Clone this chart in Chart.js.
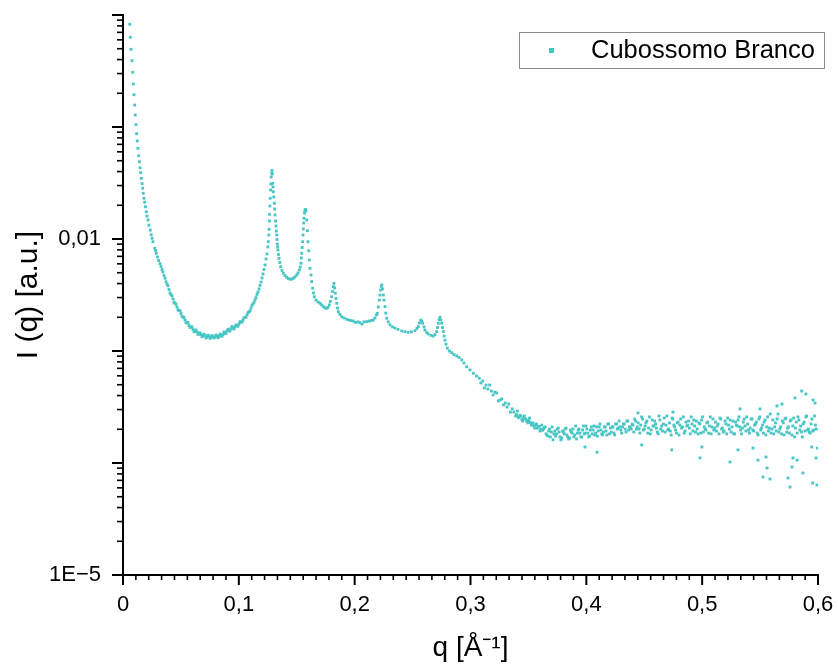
<!DOCTYPE html>
<html><head><meta charset="utf-8">
<script src="https://cdn.jsdelivr.net/npm/chart.js@4.4.1/dist/chart.umd.min.js"></script>
<style>html,body{margin:0;padding:0;background:#fff;}canvas{display:block;}</style>
</head><body>
<canvas id="c" width="838" height="665"></canvas>
<script>
const seriesName = 'Cubossomo Branco';

// low-q rise
const qRise = [0.0058,0.0063,0.0069,0.0078,0.0084,0.0089,0.0095,0.0101,0.0106,0.0112,
0.0118,0.0123,0.0129,0.0136,0.0141,0.0147,0.0153,0.0158,0.0164,0.0170,
0.0175,0.0181,0.0187,0.0193,0.0201,0.0207,0.0216,0.0224,0.0236,0.0244,
0.0251,0.0259,0.0274,0.0281,0.0287,0.0298,0.0307];
const iRise = [0.826,0.632,0.494,0.391,0.308,0.242,0.194,0.157,0.128,0.105,
0.0871,0.0750,0.0645,0.0554,0.0490,0.0433,0.0391,0.0348,0.0312,0.0284,
0.0256,0.0231,0.0213,0.0194,0.0175,0.0160,0.0148,0.0133,0.0120,0.0109,
0.01014,0.00946,0.00826,0.00790,0.00745,0.00691,0.00643];

// minimum region
const qDip = [0.0319,0.0328,0.0337,0.0345,0.0354,0.0363,0.0380,0.0397,0.0414,0.0432,
0.0449,0.0466,0.0483,0.0501,0.0518,0.0535,0.0553,0.0570,0.0587,0.0604,
0.0622,0.0639,0.0656,0.0673,0.0691,0.0708,0.0725,0.0742,0.0760,0.0777,
0.0794,0.0812,0.0829,0.0846,0.0863,0.0881,0.0898,0.0915,0.0932,0.0950,
0.0967,0.0984,0.1001,0.1019,0.1036,0.1053,0.1071,0.1088,0.1105,0.1122,0.1140];
const iDip = [0.00604,0.00568,0.00534,0.00507,0.00472,0.00446,0.00396,0.00354,0.00319,0.00291,
0.00267,0.00247,0.00230,0.00216,0.00201,0.00189,0.00180,0.00169,0.00164,0.001556,
0.001509,0.001478,0.001433,0.001404,0.001361,0.001376,0.001334,0.001361,0.001320,0.001348,
0.001334,0.001361,0.001348,0.001390,0.001404,0.001448,0.001509,0.001524,0.001588,0.001605,
0.00164,0.00169,0.001742,0.001815,0.00189,0.001991,0.002097,0.00223,0.00242,0.002628,0.002853];
const qDip2 = [0.03712,0.03885,0.04058,0.04230,0.04403,0.04575,0.04748,0.04921,0.05093,0.05266,
0.05439,0.05611,0.05784,0.05957,0.06129,0.06302,0.06475,0.06647,0.06820,0.06993,
0.07165,0.07338,0.07511,0.07683,0.07856,0.08029,0.08201,0.08374,0.08547,0.08719,
0.08892,0.09065,0.09237,0.09410,0.09583,0.09755,0.09928,0.10101,0.10273,0.10446,
0.10619,0.10791,0.10964,0.11137,0.11309];
const iDip2 = [0.004157,0.003822,0.003295,0.003098,0.002716,0.002617,0.002332,0.002285,0.002033,0.001991,
0.001790,0.001786,0.001624,0.001641,0.001487,0.001540,0.001404,0.001454,0.001341,0.001410,
0.001306,0.001384,0.001298,0.001376,0.001306,0.001390,0.001312,0.001413,0.001352,0.001478,
0.001433,0.001563,0.001506,0.001655,0.001572,0.001707,0.001662,0.001827,0.001808,0.001979,
0.002003,0.002198,0.002285,0.002559,0.002710];

// Bragg peaks region
const qPeaks = [0.11482,0.11568,0.11655,0.11741,0.11827,0.11914,0.12000,0.12086,0.12173,0.12259,
0.12345,0.12432,0.12501,0.12544,0.12587,0.12613,0.12639,0.12656,0.12682,0.12708,
0.12742,0.12768,0.12794,0.12829,0.12863,0.12898,0.12924,0.12950,0.12975,0.13019,
0.13062,0.13088,0.13122,0.13165,0.13208,0.13243,0.13269,0.13295,0.13321,0.13355,
0.13381,0.13424,0.13467,0.13537,0.13614,0.13726,0.13839,0.13985,0.14132,0.14270,
0.14417,0.14564,0.14702,0.14849,0.14995,0.15108,0.15220,0.15298,0.15367,0.15401,
0.15427,0.15470,0.15514,0.15539,0.15565,0.15600,0.15626,0.15669,0.15712,0.15764,
0.15798,0.15859,0.15911,0.15971,0.16031,0.16083,0.16144,0.16230,0.16290,0.16377,
0.16446,0.16515,0.16662,0.16834,0.17007,0.17154,0.17292,0.17439,0.17585,0.17698,
0.17810,0.17913,0.18017,0.18086,0.18155,0.18216,0.18276,0.18328,0.18388,0.18449,
0.18518,0.18587,0.18734,0.18880,0.19079,0.19312,0.19511,0.19683,0.19882,0.20072,
0.20288,0.20460,0.20633,0.20806,0.21039,0.21237,0.21410,0.21608,0.21755,0.21885,
0.21954,0.22040,0.22127,0.22187,0.22247,0.22299,0.22342,0.22403,0.22472,0.22532,
0.22618,0.22688,0.22765,0.22903,0.23050,0.23266,0.23482,0.23741,0.24060,0.24345,
0.24630,0.24906,0.25208,0.25381,0.25493,0.25597,0.25700,0.25787,0.25873,0.25985,
0.26072,0.26218,0.26356,0.26590,0.26788,0.26935,0.27082,0.27151,0.27220,0.27297,
0.27367,0.27436,0.27513,0.27582,0.27652,0.27729,0.27798,0.27885,0.27997,0.28187,
0.28377,0.28575,0.28808,0.29007,0.29240,0.29439,0.29672,0.29957,0.30242,0.30518,
0.30759];
const iPeaks = [0.00300,0.00320,0.00336,0.00358,0.00385,0.00413,0.00449,0.00487,0.00534,0.00586,
0.00663,0.00735,0.00849,0.00946,0.01086,0.01221,0.01448,0.01662,0.01971,0.02309,
0.02738,0.03098,0.03577,0.03886,0.04090,0.03806,0.03142,0.02913,0.02645,0.02371,
0.02083,0.01853,0.01638,0.01448,0.01307,0.01179,0.01086,0.00990,0.00902,0.00849,
0.00798,0.00727,0.00672,0.00617,0.00566,0.00523,0.00494,0.00472,0.00455,0.00444,
0.00437,0.00439,0.00446,0.00458,0.00477,0.00497,0.00529,0.00562,0.00607,0.00677,
0.00745,0.00840,0.00946,0.01086,0.01229,0.01390,0.01530,0.01707,0.01815,0.01834,
0.01778,0.01478,0.01186,0.00946,0.00786,0.00649,0.00547,0.00477,0.00416,0.00363,
0.00330,0.00305,0.00285,0.00274,0.00267,0.00258,0.00249,0.00242,0.00241,0.00245,
0.00258,0.00277,0.00305,0.00340,0.00375,0.00402,0.00365,0.00328,0.00294,0.00267,
0.00242,0.00224,0.00212,0.00202,0.00197,0.00192,0.00189,0.00187,0.00185,0.00180,
0.00182,0.00179,0.00174,0.00182,0.00183,0.00185,0.00187,0.00189,0.00197,0.00210,
0.00217,0.00247,0.00285,0.00316,0.00350,0.00377,0.00389,0.00358,0.00316,0.00285,
0.00249,0.00218,0.00196,0.00182,0.00171,0.00164,0.00160,0.00156,0.00151,0.00149,
0.00147,0.00148,0.00152,0.00159,0.00165,0.00178,0.00189,0.00185,0.00177,0.00164,
0.00154,0.00146,0.00142,0.00138,0.00136,0.00140,0.00149,0.00162,0.00177,0.00191,
0.00200,0.00189,0.00177,0.00162,0.00149,0.00136,0.00125,0.00115,0.00106,0.00100,
0.000966,0.000930,0.000903,0.000875,0.000831,0.000782,0.000724,0.000677,0.000632,0.000598,
0.000571];

// high-q tail (noisy plateau)
const qTail = [0.3090,0.3105,0.3120,0.3135,0.3150,0.3165,0.3180,0.3195,0.3210,0.3225,
0.3240,0.3255,0.3270,0.3285,0.3300,0.3315,0.3330,0.3345,0.3360,0.3375,
0.3390,0.3405,0.3420,0.3435,0.3450,0.3465,0.3480,0.3495,0.3510,0.3525,
0.3540,0.3555,0.3570,0.3585,0.3600,0.3615,0.3630,0.3645,0.3660,0.3675,
0.3690,0.3705,0.3720,0.3735,0.3750,0.3765,0.3780,0.3795,0.3810,0.3825,
0.3840,0.3855,0.3870,0.3885,0.3900,0.3915,0.3930,0.3945,0.3960,0.3975,
0.3990,0.4005,0.4020,0.4035,0.4050,0.4065,0.4080,0.4095,0.4110,0.4125,
0.4140,0.4155,0.4170,0.4185,0.4200,0.4215,0.4230,0.4245,0.4260,0.4275,
0.4290,0.4305,0.4320,0.4335,0.4350,0.4365,0.4380,0.4395,0.4410,0.4425,
0.4440,0.4455,0.4470,0.4485,0.4500,0.4515,0.4530,0.4545,0.4560,0.4575,
0.4590,0.4605,0.4620,0.4635,0.4650,0.4665,0.4680,0.4695,0.4710,0.4725,
0.4740,0.4755,0.4770,0.4785,0.4800,0.4815,0.4830,0.4845,0.4860,0.4875,
0.4890,0.4905,0.4920,0.4935,0.4950,0.4965,0.4980,0.4995,0.5010,0.5025,
0.5040,0.5055,0.5070,0.5085,0.5100,0.5115,0.5130,0.5145,0.5160,0.5175,
0.5190,0.5205,0.5220,0.5235,0.5250,0.5265,0.5280,0.5295,0.5310,0.5325,
0.5340,0.5355,0.5370,0.5385,0.5400,0.5415,0.5430,0.5445,0.5460,0.5475,
0.5490,0.5505,0.5520,0.5535,0.5550,0.5565,0.5580,0.5595,0.5610,0.5625,
0.5640,0.5655,0.5670,0.5685,0.5700,0.5715,0.5730,0.5745,0.5760,0.5775,
0.5790,0.5805,0.5820,0.5835,0.5850,0.5865,0.5880,0.5895,0.5910,0.5925,
0.5940,0.5955,0.5970,0.5985];
const iTail = [5.18e-4,5.40e-4,4.67e-4,4.97e-4,4.58e-4,4.97e-4,4.39e-4,4.05e-4,4.30e-4,4.22e-4,
3.58e-4,3.65e-4,3.73e-4,3.30e-4,3.43e-4,3.16e-4,3.36e-4,2.85e-4,3.04e-4,2.85e-4,
2.63e-4,2.91e-4,2.58e-4,2.63e-4,2.37e-4,2.63e-4,2.42e-4,2.28e-4,2.52e-4,2.18e-4,
2.28e-4,2.05e-4,2.23e-4,2.10e-4,1.93e-4,2.18e-4,2.01e-4,2.10e-4,1.78e-4,1.93e-4,
1.71e-4,2.10e-4,1.82e-4,1.74e-4,2.01e-4,1.89e-4,1.61e-4,1.93e-4,1.82e-4,2.05e-4,
1.71e-4,1.67e-4,1.89e-4,2.01e-4,1.78e-4,1.64e-4,1.97e-4,1.85e-4,1.71e-4,2.14e-4,
1.85e-4,2.01e-4,1.71e-4,1.97e-4,1.82e-4,2.14e-4,1.85e-4,1.74e-4,2.10e-4,1.97e-4,
1.78e-4,2.10e-4,1.93e-4,2.23e-4,1.82e-4,1.89e-4,2.10e-4,1.78e-4,2.23e-4,2.05e-4,
2.10e-4,1.85e-4,2.23e-4,2.01e-4,2.37e-4,1.97e-4,2.10e-4,2.23e-4,1.89e-4,2.37e-4,
2.10e-4,2.01e-4,2.18e-4,2.47e-4,2.01e-4,2.28e-4,1.85e-4,2.58e-4,1.97e-4,2.14e-4,
2.37e-4,2.05e-4,1.82e-4,2.42e-4,2.14e-4,2.23e-4,1.89e-4,2.63e-4,2.01e-4,1.93e-4,
2.52e-4,2.18e-4,1.97e-4,2.28e-4,1.78e-4,2.47e-4,2.10e-4,1.85e-4,2.32e-4,2.18e-4,
2.05e-4,2.58e-4,1.93e-4,2.14e-4,2.37e-4,1.82e-4,2.23e-4,2.42e-4,1.89e-4,2.01e-4,
2.28e-4,1.85e-4,2.58e-4,2.10e-4,1.97e-4,2.32e-4,2.14e-4,1.82e-4,2.47e-4,2.05e-4,
1.93e-4,2.23e-4,2.52e-4,2.01e-4,1.89e-4,2.37e-4,1.82e-4,2.18e-4,2.42e-4,2.10e-4,
1.82e-4,2.32e-4,2.14e-4,2.58e-4,1.97e-4,2.05e-4,2.47e-4,1.93e-4,2.23e-4,1.85e-4,
2.47e-4,1.97e-4,2.18e-4,2.32e-4,1.78e-4,2.58e-4,2.05e-4,1.85e-4,2.42e-4,2.10e-4,
1.93e-4,2.74e-4,2.01e-4,1.82e-4,2.28e-4,2.47e-4,1.89e-4,2.10e-4,2.37e-4,1.78e-4,
2.52e-4,2.05e-4,1.85e-4,2.42e-4,2.14e-4,1.71e-4,2.32e-4,2.58e-4,1.97e-4,1.89e-4,
2.23e-4,1.93e-4,2.63e-4,2.01e-4];
const qTail2 = [0.33975,0.34125,0.34275,0.34425,0.34575,0.34725,0.34875,0.35025,0.35175,0.35325,
0.35475,0.35625,0.35775,0.35925,0.36075,0.36225,0.36375,
0.36525,0.36675,0.36825,0.36975,0.37125,0.37275,0.37425,0.37575,0.37725,0.37875,
0.38025,0.38175,0.38325,0.38475,0.38625,0.38775,0.38925,0.39075,0.39225,0.39375,
0.39525,0.39675,0.39825,0.39975,0.40125,0.40275,0.40425,0.40575,0.40725,0.40875,
0.41025,0.41175,0.41325,0.41475,0.41625,0.41775,0.41925,0.42075,0.42225,0.42375,
0.42525,0.42675,0.42825,0.42975,0.43125,0.43275,0.43425,0.43575,0.43725,0.43875,
0.44025,0.44175,0.44325,0.44475,0.44625,0.44775,0.44925,0.45075,0.45225,0.45375,
0.45525,0.45675,0.45825,0.45975,0.46125,0.46275,0.46425,0.46575,0.46725,0.46875,
0.47025,0.47175,0.47325,0.47475,0.47625,0.47775,0.47925,0.48075,0.48225,0.48375,
0.48525,0.48675,0.48825,0.48975,0.49125,0.49275,0.49425,0.49575,0.49725,0.49875,
0.50025,0.50175,0.50325,0.50475,0.50625,0.50775,0.50925,0.51075,0.51225,0.51375,
0.51525,0.51675,0.51825,0.51975,0.52125,0.52275,0.52425,0.52575,0.52725,0.52875,
0.53025,0.53175,0.53325,0.53475,0.53625,0.53775,0.53925,0.54075,0.54225,0.54375,
0.54525,0.54675,0.54825,0.54975,0.55125,0.55275,0.55425,0.55575,0.55725,0.55875,
0.56025,0.56175,0.56325,0.56475,0.56625,0.56775,0.56925,0.57075,0.57225,0.57375,
0.57525,0.57675,0.57825,0.57975,0.58125,0.58275,0.58425,0.58575,0.58725,0.58875,
0.59025,0.59175,0.59325,0.59475,0.59625,0.59775];
const iTail2 = [2.70e-4,2.55e-4,2.66e-4,2.45e-4,2.52e-4,2.49e-4,2.35e-4,2.40e-4,2.30e-4,2.24e-4,
2.14e-4,2.19e-4,2.05e-4,2.12e-4,2.00e-4,1.96e-4,2.07e-4,
1.82e-4,1.74e-4,2.01e-4,1.89e-4,1.61e-4,1.93e-4,1.82e-4,2.05e-4,1.71e-4,1.67e-4,
1.89e-4,2.01e-4,1.78e-4,1.64e-4,1.97e-4,1.85e-4,1.71e-4,2.14e-4,1.85e-4,2.01e-4,
1.71e-4,1.97e-4,1.82e-4,2.14e-4,1.85e-4,1.74e-4,2.10e-4,1.97e-4,1.78e-4,2.10e-4,
1.93e-4,2.23e-4,1.82e-4,1.89e-4,2.10e-4,1.78e-4,2.23e-4,2.05e-4,2.10e-4,1.85e-4,
2.23e-4,2.01e-4,2.37e-4,1.97e-4,2.10e-4,2.23e-4,1.89e-4,2.37e-4,2.10e-4,2.01e-4,
2.18e-4,2.47e-4,2.01e-4,2.28e-4,1.85e-4,2.58e-4,1.97e-4,2.14e-4,2.37e-4,2.05e-4,
1.82e-4,2.42e-4,2.14e-4,2.23e-4,1.89e-4,2.63e-4,2.01e-4,1.93e-4,2.52e-4,2.18e-4,
1.97e-4,2.28e-4,1.78e-4,2.47e-4,2.10e-4,1.85e-4,2.32e-4,2.18e-4,2.05e-4,2.58e-4,
1.93e-4,2.14e-4,2.37e-4,1.82e-4,2.23e-4,2.42e-4,1.89e-4,2.01e-4,2.28e-4,1.85e-4,
2.58e-4,2.10e-4,1.97e-4,2.32e-4,2.14e-4,1.82e-4,2.47e-4,2.05e-4,1.93e-4,2.23e-4,
2.52e-4,2.01e-4,1.89e-4,2.37e-4,1.82e-4,2.18e-4,2.42e-4,2.10e-4,1.82e-4,2.32e-4,
2.14e-4,2.58e-4,1.97e-4,2.05e-4,2.47e-4,1.93e-4,2.23e-4,1.85e-4,2.47e-4,1.97e-4,
2.18e-4,2.32e-4,1.78e-4,2.58e-4,2.05e-4,1.85e-4,2.42e-4,2.10e-4,1.93e-4,2.74e-4,
2.01e-4,1.82e-4,2.28e-4,2.47e-4,1.89e-4,2.10e-4,2.37e-4,1.78e-4,2.52e-4,2.05e-4,
1.85e-4,2.42e-4,2.14e-4,1.71e-4,2.32e-4,2.58e-4,1.97e-4,1.89e-4,2.23e-4,1.93e-4,
2.63e-4,2.01e-4,1.85e-4,2.47e-4,1.97e-4,2.18e-4];

// scattered points away from the plateau
const qOutliers = [0.3988,0.4092,0.4446,0.4478,0.4737,0.4748,0.4981,0.4998,0.5240,0.5309,
0.5327,0.5439,0.5482,0.5499,0.5525,0.5551,0.5560,0.5586,0.5646,0.5689,
0.5741,0.5758,0.5775,0.5784,0.5801,0.5819,0.5859,0.5870,0.5896,0.5946,
0.5954,0.5957,0.5974,0.5983,0.5991,0.5996];
const iOutliers = [1.39e-4,1.25e-4,2.80e-4,1.45e-4,1.31e-4,2.85e-4,1.11e-4,1.39e-4,1.02e-4,1.31e-4,
3.04e-4,1.36e-4,1.06e-4,3.04e-4,7.50e-5,1.13e-4,9.02e-5,7.20e-5,3.23e-4,3.36e-4,
7.35e-5,6.10e-5,9.21e-5,1.11e-4,3.81e-4,1.06e-4,4.39e-4,8.14e-5,4.13e-4,1.39e-4,
6.63e-5,3.65e-4,3.43e-4,1.11e-4,6.36e-5,1.36e-4];

// axes
const xTickValues = [0, 0.1, 0.2, 0.3, 0.4, 0.5, 0.6];
const xTickLabels = ['0', '0,1', '0,2', '0,3', '0,4', '0,5', '0,6'];
const xMinorPerMajor = 8;
const yDecades = [1e-5, 1e-4, 1e-3, 1e-2, 1e-1, 1];
const yLabelValues = [1e-5, 1e-2];
const yLabelTexts = ['1E\u22125', '0,01'];
const xTitle = 'q [\u00C5\u207B\u00B9]';
const yTitle = 'I (q) [a.u.]';

const qAll = [].concat(qRise, qDip, qDip2, qPeaks, qTail, qTail2, qOutliers);
const iAll = [].concat(iRise, iDip, iDip2, iPeaks, iTail, iTail2, iOutliers);
const points = qAll.map((q, k) => ({ x: q, y: iAll[k] }));

const COLOR = '#48c6c6';
const FONT = '"Liberation Sans", Arial, Helvetica, sans-serif';

const tickMarks = {
  id: 'tickMarks',
  afterDraw(chart) {
    const ctx = chart.ctx, xs = chart.scales.x, ys = chart.scales.y;
    const left = chart.chartArea.left, bottom = chart.chartArea.bottom;
    ctx.save();
    ctx.strokeStyle = '#000';
    yDecades.forEach((d, k) => {
      for (let m = 1; m <= 9; m++) {
        if (k === yDecades.length - 1 && m > 1) break;
        const py = ys.getPixelForValue(m * d);
        const major = m === 1;
        ctx.lineWidth = major ? 2 : 1.6;
        ctx.beginPath();
        ctx.moveTo(left - (major ? 11 : 6), py);
        ctx.lineTo(left, py);
        ctx.stroke();
      }
    });
    for (let k = 0; k < xTickValues.length; k++) {
      const px = xs.getPixelForValue(xTickValues[k]);
      ctx.lineWidth = 2;
      ctx.beginPath(); ctx.moveTo(px, bottom); ctx.lineTo(px, bottom + 10); ctx.stroke();
      if (k < xTickValues.length - 1) {
        const step = (xTickValues[k + 1] - xTickValues[k]) / (xMinorPerMajor + 1);
        for (let j = 1; j <= xMinorPerMajor; j++) {
          const mx = xs.getPixelForValue(xTickValues[k] + j * step);
          ctx.lineWidth = 1.6;
          ctx.beginPath(); ctx.moveTo(mx, bottom); ctx.lineTo(mx, bottom + 5); ctx.stroke();
        }
      }
    }
    ctx.restore();
  }
};

const legendBox = {
  id: 'legendBox',
  afterDraw(chart) {
    const ctx = chart.ctx, area = chart.chartArea;
    const bx = area.right - 299, by = area.top + 17, bw = 305, bh = 36;
    ctx.save();
    ctx.fillStyle = '#fff';
    ctx.fillRect(bx, by, bw, bh);
    ctx.strokeStyle = '#8a8a8a';
    ctx.lineWidth = 1;
    ctx.strokeRect(bx + 0.5, by + 0.5, bw, bh);
    ctx.fillStyle = COLOR;
    ctx.fillRect(bx + 30, by + 16, 5, 5);
    ctx.fillStyle = '#000';
    ctx.font = '25.5px ' + FONT;
    ctx.textBaseline = 'middle';
    ctx.textAlign = 'left';
    ctx.fillText(chart.data.datasets[0].label, bx + 72, by + bh / 2 + 1);
    ctx.restore();
  }
};

new Chart(document.getElementById('c'), {
  type: 'scatter',
  data: {
    datasets: [{
      label: seriesName,
      data: points,
      backgroundColor: COLOR,
      borderColor: COLOR,
      pointStyle: 'rect',
      pointRadius: 2,
      pointBorderWidth: 0,
      showLine: false
    }]
  },
  options: {
    responsive: false,
    animation: false,
    events: [],
    layout: { padding: { top: 15, right: 20, left: 0, bottom: 0 } },
    plugins: { legend: { display: false }, tooltip: { enabled: false } },
    scales: {
      x: {
        type: 'linear', min: 0, max: 0.6,
        grid: { display: false, drawTicks: false },
        border: { display: true, color: '#000', width: 2 },
        afterBuildTicks: (s) => { s.ticks = xTickValues.map(v => ({ value: v })); },
        afterFit: (s) => { s.height = 90; s.paddingLeft = 0; s.paddingRight = 0; },
        ticks: {
          autoSkip: false, maxRotation: 0, padding: 17, color: '#000',
          font: { family: FONT, size: 22 },
          callback: (v, idx) => xTickLabels[idx]
        },
        title: { display: true, text: xTitle, color: '#000', font: { family: FONT, size: 28 }, padding: { top: 0, bottom: 0 } }
      },
      y: {
        type: 'logarithmic', min: 1e-5, max: 1,
        grid: { display: false, drawTicks: false },
        border: { display: true, color: '#000', width: 2 },
        afterBuildTicks: (s) => { s.ticks = yLabelValues.map(v => ({ value: v })); },
        afterFit: (s) => { s.width = 123; s.paddingTop = 0; s.paddingBottom = 0; },
        ticks: {
          autoSkip: false, padding: 22, color: '#000',
          font: { family: FONT, size: 22 },
          callback: (v) => {
            const k = yLabelValues.findIndex(t => Math.abs(Math.log10(t) - Math.log10(v)) < 1e-6);
            return k >= 0 ? yLabelTexts[k] : '';
          }
        },
        title: { display: true, text: yTitle, color: '#000', font: { family: FONT, size: 30 }, padding: { top: 11, bottom: 0 } }
      }
    }
  },
  plugins: [tickMarks, legendBox]
});
</script>
</body></html>
